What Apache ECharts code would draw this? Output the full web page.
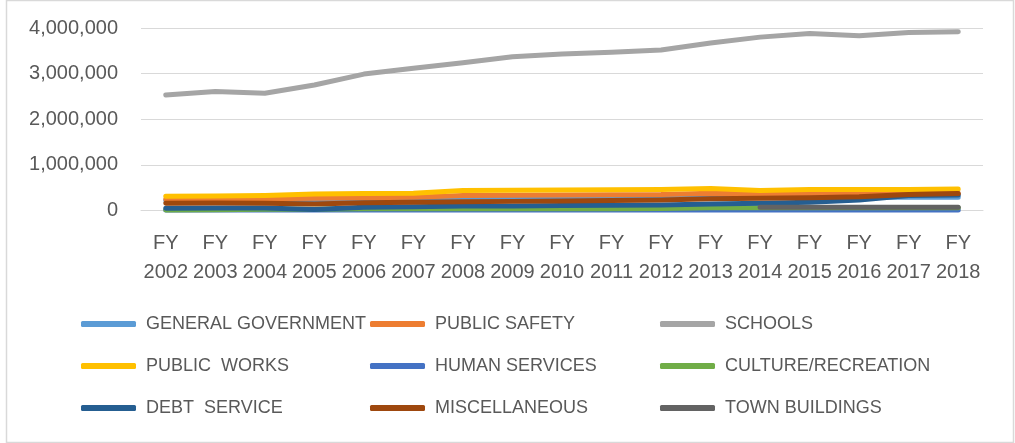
<!DOCTYPE html>
<html>
<head>
<meta charset="utf-8">
<script src="https://cdn.jsdelivr.net/npm/echarts@6/dist/echarts.min.js"></script>
<style>
html,body{margin:0;padding:0;background:#fff;}
#c{width:1015px;height:443px;}
</style>
</head>
<body>
<div id="c"></div>
<script>
const categories = ['FY\n2002','FY\n2003','FY\n2004','FY\n2005','FY\n2006','FY\n2007','FY\n2008','FY\n2009','FY\n2010','FY\n2011','FY\n2012','FY\n2013','FY\n2014','FY\n2015','FY\n2016','FY\n2017','FY\n2018'];
const yTicks = [0, 1000000, 2000000, 3000000, 4000000];

const generalGovernment = [220000,225000,230000,235000,245000,255000,270000,272000,275000,278000,280000,285000,285000,288000,290000,290000,290000];
const publicSafety      = [245000,250000,258000,270000,280000,290000,330000,335000,340000,345000,350000,380000,360000,370000,375000,370000,375000];
const schools           = [2530000,2610000,2570000,2750000,2990000,3120000,3240000,3370000,3430000,3470000,3520000,3670000,3800000,3880000,3830000,3900000,3920000];
const publicWorks       = [310000,320000,330000,360000,370000,380000,440000,445000,450000,455000,460000,480000,440000,460000,460000,460000,470000];
const humanServices     = [10000,10000,10000,10000,10000,10000,10000,10000,10000,10000,10000,10000,10000,10000,10000,10000,10000];
const cultureRecreation = [10000,15000,25000,30000,40000,40000,40000,40000,40000,40000,45000,60000,60000,60000,60000,60000,60000];
const debtService       = [50000,55000,55000,20000,70000,80000,100000,100000,110000,115000,120000,140000,160000,180000,230000,330000,340000];
const miscellaneous     = [160000,165000,160000,140000,170000,180000,190000,200000,210000,220000,230000,260000,270000,280000,300000,350000,370000];
const townBuildings     = [null,null,null,null,null,null,null,null,null,null,null,null,70000,70000,70000,70000,70000];

const seriesDefs = [
  ['GENERAL GOVERNMENT', generalGovernment, '#5B9BD5'],
  ['PUBLIC SAFETY', publicSafety, '#ED7D31'],
  ['SCHOOLS', schools, '#A5A5A5'],
  ['PUBLIC  WORKS', publicWorks, '#FFC000'],
  ['HUMAN SERVICES', humanServices, '#4472C4'],
  ['CULTURE/RECREATION', cultureRecreation, '#70AD47'],
  ['DEBT  SERVICE', debtService, '#255E91'],
  ['MISCELLANEOUS', miscellaneous, '#9E480E'],
  ['TOWN BUILDINGS', townBuildings, '#636363']
];

const FONT = '"Liberation Sans", Arial, sans-serif';
const TXT = '#595959';

const chart = echarts.init(document.getElementById('c'), null, {renderer:'canvas'});

function legendCol(names, left) {
  return {
    orient: 'vertical',
    left: left,
    top: 313,
    padding: 0,
    itemWidth: 55,
    itemHeight: 6,
    itemGap: 20,
    icon: 'roundRect',
    data: names,
    selectedMode: false,
    textStyle: {fontFamily: FONT, fontSize: 18, color: TXT, lineHeight: 22, padding: [0,0,0,5]}
  };
}

chart.setOption({
  animation: false,
  backgroundColor: '#fff',
  graphic: [{
    type: 'rect', left: 4, top: -2,
    shape: {width: 1007, height: 442},
    style: {fill: 'none', stroke: '#d9d9d9', lineWidth: 1.5},
    silent: true
  }],
  grid: {left: 141, right: 32, top: 28, bottom: 232.5, containLabel: false},
  legend: [
    legendCol(['GENERAL GOVERNMENT','PUBLIC  WORKS','DEBT  SERVICE'], 81),
    legendCol(['PUBLIC SAFETY','HUMAN SERVICES','MISCELLANEOUS'], 370),
    legendCol(['SCHOOLS','CULTURE/RECREATION','TOWN BUILDINGS'], 660)
  ],
  xAxis: {
    type: 'category',
    data: categories,
    boundaryGap: true,
    axisLine: {lineStyle: {color: '#d9d9d9', width: 1}},
    axisTick: {show: false},
    axisLabel: {interval: 0, margin: 18, fontFamily: FONT, fontSize: 20, color: TXT, lineHeight: 29}
  },
  yAxis: {
    type: 'value',
    min: yTicks[0],
    max: yTicks[yTicks.length-1],
    interval: yTicks[1]-yTicks[0],
    axisLine: {show: false},
    axisTick: {show: false},
    splitLine: {lineStyle: {color: '#d9d9d9', width: 1}},
    axisLabel: {margin: 23, fontFamily: FONT, fontSize: 20, color: TXT,
      formatter: v => v.toLocaleString('en-US')}
  },
  series: seriesDefs.map(([name, data, color]) => ({
    name, type: 'line', data,
    symbol: 'none',
    smooth: false,
    connectNulls: false,
    lineStyle: {color, width: 5, cap: 'round', join: 'round'},
    itemStyle: {color}
  }))
});
</script>
</body>
</html>
